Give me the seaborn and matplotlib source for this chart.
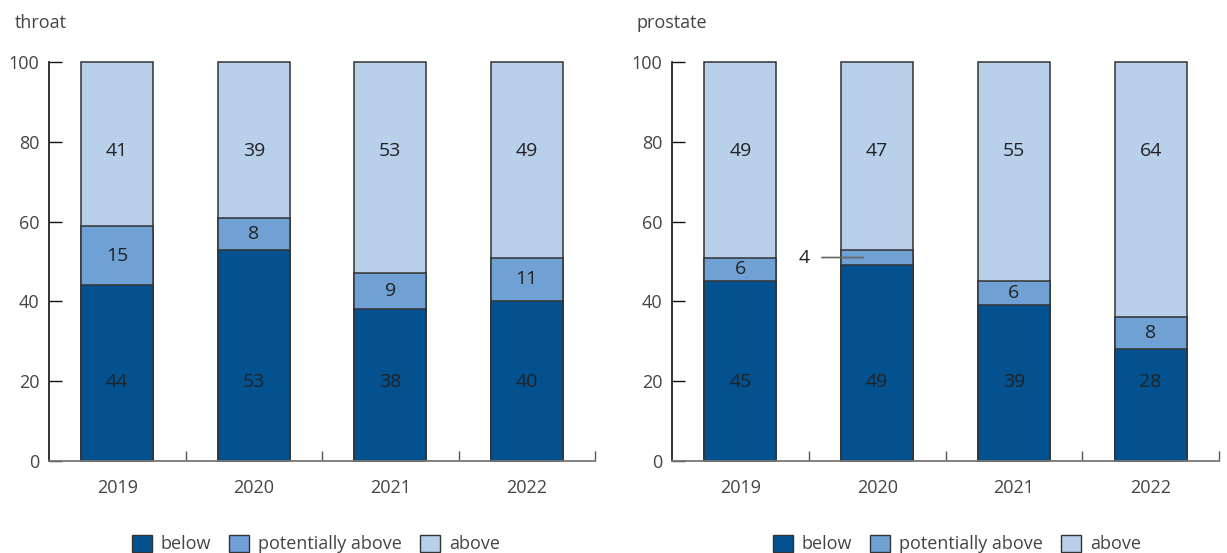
import numpy as np
import pandas as pd
import matplotlib
matplotlib.use("Agg")
import matplotlib.pyplot as plt
from matplotlib.patches import Patch
import seaborn as sns

years = ["2019", "2020", "2021", "2022"]
series_names = ["below", "potentially above", "above"]

throat_below = [44, 53, 38, 40]
throat_potential = [15, 8, 9, 11]
throat_above = [41, 39, 53, 49]

prostate_below = [45, 49, 39, 28]
prostate_potential = [6, 4, 6, 8]
prostate_above = [49, 47, 55, 64]

panel_titles = ["throat", "prostate"]
y_ticks = [0, 20, 40, 60, 80, 100]

colors = ["#03518F", "#6FA1D4", "#B9D0EA"]
text_dark = "#222222"
tick_gray = "#444444"

sns.set_theme(style="white")
plt.rcParams["font.family"] = ["Open Sans", "DejaVu Sans"]

fig = plt.figure(figsize=(12.27, 5.53), dpi=100)
W, H = 1227, 553
axes_px = [(49, 595), (672, 1219)]
bottom_px, top_px = 461, 62

# label rows for the outer segments; the middle segment is labelled at its centre
ROW_BELOW, ROW_ABOVE = 19.8, 77.6


def label_y(base, val, level):
    top = base + val
    if level == 0 and top > ROW_BELOW + 5:
        return ROW_BELOW
    if level == 2 and base < ROW_ABOVE - 5:
        return ROW_ABOVE
    return base + val / 2


def draw_panel(ax, below, potential, above, title, title_x, outside_small=False):
    df = pd.DataFrame({
        "year": years,
        "below": below,
        "potential": potential,
        "above": above,
    })
    df["cum_below"] = df["below"]
    df["cum_potential"] = df["below"] + df["potential"]
    df["cum_above"] = df["cum_potential"] + df["above"]
    kw = dict(edgecolor="#333333", linewidth=1.1, width=0.525, ax=ax, order=years)
    sns.barplot(data=df, x="year", y="cum_above", color=colors[2], saturation=1, **kw)
    sns.barplot(data=df, x="year", y="cum_potential", color=colors[1], saturation=1, **kw)
    sns.barplot(data=df, x="year", y="cum_below", color=colors[0], saturation=1, **kw)
    for p in ax.patches:
        p.set_clip_on(False)

    # segment value labels
    for i in range(len(years)):
        segs = [(0, below[i]), (below[i], potential[i]),
                (below[i] + potential[i], above[i])]
        for level, (base, val) in enumerate(segs):
            yc = label_y(base, val, level)
            if outside_small and val < 5:
                ax.annotate(str(val), xy=(i - 0.1, yc), xytext=(i - 0.53, yc),
                            ha="center", va="center", fontsize=14, color=text_dark,
                            arrowprops=dict(arrowstyle="-", color="#666666", lw=1.2,
                                            shrinkA=6, shrinkB=0))
            else:
                ax.text(i, yc, str(val), ha="center", va="center",
                        fontsize=14, color=text_dark)

    ax.set_xlim(-0.5, 3.5)
    ax.set_ylim(0, 100)
    ax.set_xlabel("")
    ax.set_ylabel("")
    ax.set_yticks(y_ticks)
    ax.set_yticklabels([str(t) for t in y_ticks], fontsize=13, color=tick_gray)
    ax.tick_params(axis="y", direction="in", length=9.5, width=1.0, color="#111111",
                   pad=7, left=True)
    ax.tick_params(axis="x", which="major", length=0, pad=13, labelsize=13,
                   labelcolor=tick_gray)
    ax.set_xticks([0.5, 1.5, 2.5, 3.5], minor=True)
    ax.tick_params(axis="x", which="minor", direction="in", length=7.5, width=1.0,
                   color="#555555", bottom=True)
    for s in ["top", "right"]:
        ax.spines[s].set_visible(False)
    ax.spines["left"].set_color("#111111")
    ax.spines["left"].set_linewidth(1.2)
    ax.spines["left"].set_bounds(0, 100)
    ax.spines["bottom"].set_color("#777777")
    ax.spines["bottom"].set_linewidth(1.3)
    ax.set_zorder(1)
    fig.text(title_x / W, 1 - 23 / H, title, ha="left", va="center",
             fontsize=13, color=tick_gray)


data = [
    (throat_below, throat_potential, throat_above),
    (prostate_below, prostate_potential, prostate_above),
]
title_xs = [15, 637]
legend_centers = [316, 957]

for k, ((x0, x1), (b, p, a)) in enumerate(zip(axes_px, data)):
    ax = fig.add_axes([x0 / W, 1 - bottom_px / H, (x1 - x0) / W,
                       (bottom_px - top_px) / H])
    draw_panel(ax, b, p, a, panel_titles[k], title_xs[k], outside_small=(k == 1))
    handles = [Patch(facecolor=c, edgecolor="#333333", linewidth=1.0)
               for c in colors]
    fig.legend(handles, series_names, loc="center",
               bbox_to_anchor=(legend_centers[k] / W, 1 - 544 / H),
               ncol=3, frameon=False, fontsize=13, handlelength=1.1,
               handleheight=1.1, handletextpad=0.5, columnspacing=1.0,
               labelcolor=tick_gray)

fig.savefig("out.png", dpi=100)
